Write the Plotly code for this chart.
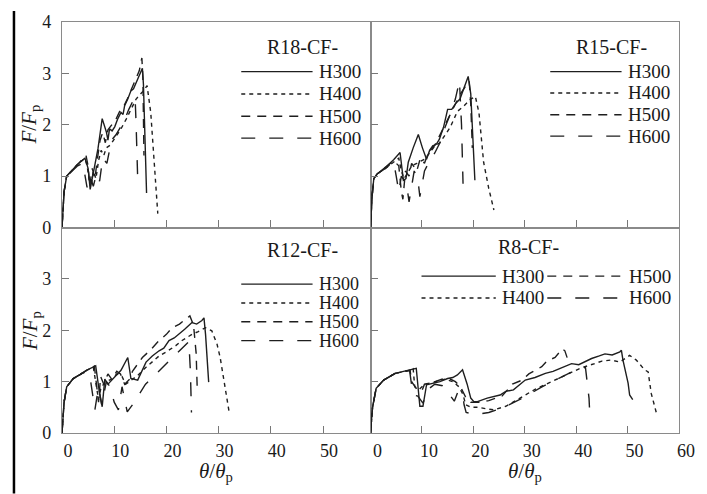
import plotly.graph_objects as go

# ---------------- data ----------------
SERIES = ["H300", "H400", "H500", "H600"]
PANELS = ["R18-CF-", "R15-CF-", "R12-CF-", "R8-CF-"]
X_TICKS = [0, 10, 20, 30, 40, 50, 60]
Y_TICKS = [0, 1, 2, 3, 4]

# R18 (top-left)
R18_H300_X = [0, 0.4, 0.9, 2, 3, 4.4, 5.0, 5.4, 5.8, 6.3, 6.9, 7.7, 8.5, 8.8, 9.1, 9.6, 10.1, 10.7, 11.3, 11.7, 12.0, 12.6, 13.2, 13.7, 14.2, 14.8, 15.4, 15.6, 16.2]
R18_H300_Y = [0, 0.7, 1.0, 1.12, 1.23, 1.35, 1.15, 0.74, 0.95, 1.15, 1.54, 2.12, 1.86, 1.7, 1.92, 1.88, 1.96, 2.12, 2.24, 2.2, 2.37, 2.5, 2.66, 2.7, 2.82, 2.95, 3.1, 2.79, 0.67]
R18_H400_X = [0, 0.4, 0.9, 2, 3, 4.4, 4.8, 5.2, 5.6, 6.0, 6.5, 7.0, 7.5, 8.0, 8.5, 9.2, 10.4, 11.2, 12.3, 13.2, 14.2, 15.5, 16.3, 17.0, 17.5, 18.0, 18.35]
R18_H400_Y = [0, 0.7, 1.0, 1.12, 1.23, 1.35, 1.2, 0.95, 0.85, 1.1, 0.95, 1.3, 1.5, 1.4, 1.55, 1.6, 1.79, 1.9, 2.11, 2.3, 2.5, 2.65, 2.76, 2.24, 1.47, 0.83, 0.27]
R18_H500_X = [0, 0.4, 0.9, 2, 3, 4.0, 4.6, 5.0, 5.3, 5.8, 6.3, 6.8, 7.3, 7.8, 8.3, 8.8, 9.5, 10.3, 11.0, 11.8, 12.5, 13.3, 14.0, 14.8, 15.3, 15.5, 15.7]
R18_H500_Y = [0, 0.7, 1.0, 1.12, 1.23, 1.32, 1.4, 1.2, 0.8, 1.15, 0.95, 1.35, 1.7, 1.85, 1.65, 1.9, 2.0, 2.1, 2.25, 2.35, 2.5, 2.7, 2.85, 3.05, 3.3, 2.9, 1.4]
R18_H600_X = [0, 0.4, 0.9, 2, 3, 4.0, 4.4, 4.8, 5.4, 6.0, 6.6, 7.2, 7.8, 8.6, 9.5, 10.3, 11.2, 12.0, 12.8, 13.5, 14.0, 14.2, 14.5]
R18_H600_Y = [0, 0.7, 1.0, 1.1, 1.2, 1.25, 1.05, 0.78, 1.0, 0.8, 1.05, 0.9, 1.35, 1.25, 1.7, 1.8, 1.95, 2.1, 2.3, 2.45, 2.55, 2.0, 0.95]

# R15 (top-right)
R15_H300_X = [0, 0.3, 0.64, 1.28, 2.9, 4.5, 5.75, 6.1, 6.4, 6.9, 7.35, 8.3, 9.3, 10.1, 10.9, 11.5, 12.1, 12.8, 13.4, 14.2, 15.0, 15.8, 16.6, 17.4, 18.2, 19.0, 19.5, 20.3]
R15_H300_Y = [0, 0.6, 0.95, 1.04, 1.17, 1.32, 1.46, 1.2, 0.92, 0.95, 1.27, 1.55, 1.81, 1.55, 1.33, 1.5, 1.59, 1.62, 1.72, 1.95, 2.3, 2.3, 2.42, 2.5, 2.71, 2.94, 2.6, 0.92]
R15_H400_X = [0, 0.3, 0.64, 1.28, 2.9, 4.5, 5.5, 6.0, 6.5, 7.2, 8.0, 9.0, 10.5, 11.5, 12.5, 13.5, 14.4, 15.5, 16.9, 18.0, 19.5, 20.4, 21.1, 22.0, 23.0, 24.0]
R15_H400_Y = [0, 0.6, 0.95, 1.04, 1.15, 1.28, 1.35, 1.1, 0.95, 1.05, 1.2, 1.25, 1.33, 1.45, 1.59, 1.65, 1.78, 1.95, 2.26, 2.35, 2.5, 2.55, 2.23, 1.27, 0.76, 0.34]
R15_H500_X = [0, 0.3, 0.64, 1.28, 2.9, 4.5, 5.5, 6.0, 6.3, 6.8, 7.5, 8.0, 9.0, 9.7, 10.5, 11.2, 12.5, 13.5, 14.5, 15.5, 16.5, 17.5, 18.5, 19.2, 19.5, 19.8]
R15_H500_Y = [0, 0.6, 0.95, 1.04, 1.17, 1.3, 1.2, 0.7, 0.55, 1.1, 1.0, 1.25, 1.1, 1.35, 1.25, 1.45, 1.6, 1.8, 2.0, 2.2, 2.4, 2.6, 2.75, 2.85, 2.4, 1.55]
R15_H600_X = [0, 0.3, 0.64, 1.28, 2.9, 4.5, 5.0, 5.5, 6.0, 7.0, 7.5, 8.5, 9.2, 9.6, 10.5, 11.5, 12.5, 13.5, 14.5, 15.5, 16.5, 17.3, 17.7, 18.0]
R15_H600_Y = [0, 0.6, 0.95, 1.04, 1.15, 1.28, 1.0, 0.7, 1.0, 0.85, 0.5, 1.1, 0.95, 0.6, 1.1, 1.3, 1.45, 1.65, 1.95, 2.2, 2.5, 2.85, 2.0, 0.85]

# R12 (bottom-left)
R12_H300_X = [0, 0.4, 0.9, 2.15, 3.5, 4.7, 6.45, 6.8, 7.2, 7.7, 8.2, 8.8, 9.5, 10.3, 11.3, 12.6, 13.2, 14.5, 15.3, 16.1, 17.3, 18.6, 19.5, 20.5, 21.5, 22.4, 23.5, 24.9, 25.8, 26.8, 27.2, 27.5, 28.1]
R12_H300_Y = [0, 0.6, 0.9, 1.06, 1.14, 1.22, 1.31, 1.0, 0.77, 0.51, 1.05, 0.95, 1.02, 1.1, 1.22, 1.47, 1.06, 1.03, 1.2, 1.38, 1.5, 1.6, 1.65, 1.8, 1.85, 1.92, 2.02, 2.15, 2.12, 2.19, 2.24, 1.92, 0.99]
R12_H400_X = [0, 0.4, 0.9, 2.15, 3.5, 4.7, 6.0, 6.5, 7.0, 7.5, 8.5, 9.5, 10.5, 11.5, 12.2, 12.9, 14.5, 16.1, 17.3, 18.6, 20, 21.8, 23, 24.9, 26, 27.5, 28.7, 29.7, 30.3, 31.3, 32.0]
R12_H400_Y = [0, 0.6, 0.9, 1.06, 1.14, 1.22, 1.28, 1.0, 0.65, 0.9, 1.0, 1.05, 1.15, 1.1, 0.95, 1.0, 1.12, 1.28, 1.38, 1.5, 1.58, 1.7, 1.8, 1.92, 1.97, 2.05, 1.99, 1.73, 1.47, 0.9, 0.42]
R12_H500_X = [0, 0.4, 0.9, 2.15, 3.5, 4.7, 6.2, 6.6, 7.0, 7.4, 8.0, 8.8, 9.5, 10.5, 11.2, 12.0, 13.0, 13.5, 15.4, 17, 18.6, 20, 21.1, 22.5, 23.5, 24.5, 25.2, 25.7, 25.9]
R12_H500_Y = [0, 0.6, 0.9, 1.06, 1.14, 1.22, 1.3, 0.95, 0.6, 1.1, 0.95, 1.15, 1.05, 1.2, 1.15, 0.95, 1.05, 1.2, 1.47, 1.62, 1.8, 1.92, 2.05, 2.12, 2.2, 2.28, 2.1, 1.55, 0.88]
R12_H600_X = [0, 0.4, 0.9, 2.15, 3.5, 4.7, 5.5, 5.9, 6.3, 7.0, 7.6, 8.5, 9.2, 10.0, 10.8, 11.5, 12.5, 13.5, 14.8, 16, 17.5, 19, 20.5, 22, 23.5, 24.3, 24.6, 24.8]
R12_H600_Y = [0, 0.6, 0.9, 1.06, 1.14, 1.2, 1.0, 0.7, 0.45, 0.9, 0.55, 1.0, 0.9, 0.6, 0.45, 0.9, 0.41, 0.55, 0.77, 0.95, 1.1, 1.25, 1.4, 1.55, 1.7, 1.78, 1.2, 0.4]

# R8 (bottom-right)
R8_H300_X = [0, 0.4, 1.1, 2.56, 4.8, 6.5, 7.7, 8.9, 9.6, 10.2, 10.9, 12.5, 13.5, 15, 16, 16.9, 17.9, 18.8, 19.5, 20.1, 20.8, 22.7, 25.2, 26.3, 27.8, 30.1, 32, 34, 35.5, 36.9, 38, 39.1, 40.5, 41.7, 43, 44.5, 45.6, 47, 48.5, 48.8, 49.1, 50.1, 50.4, 51]
R8_H300_Y = [0, 0.5, 0.87, 1.03, 1.16, 1.2, 1.24, 1.26, 0.52, 0.52, 0.94, 0.97, 1.0, 1.06, 1.08, 1.13, 1.23, 0.95, 0.68, 0.61, 0.61, 0.68, 0.74, 0.81, 0.84, 1.03, 1.08, 1.16, 1.2, 1.26, 1.3, 1.35, 1.33, 1.39, 1.45, 1.5, 1.54, 1.52, 1.58, 1.61, 1.42, 0.97, 0.74, 0.65]
R8_H400_X = [0, 0.4, 1.1, 2.56, 4.8, 6.5, 7.7, 8.3, 8.6, 9.5, 10.5, 12, 14.5, 16, 17.2, 18, 18.5, 19.5, 21, 22.5, 24, 26.3, 28, 30.1, 32, 34.6, 37, 39.1, 41, 43.6, 45, 46.8, 48.5, 50.4, 51.7, 53.3, 54, 54.6, 55.6]
R8_H400_Y = [0, 0.5, 0.87, 1.03, 1.16, 1.2, 1.22, 1.25, 0.9, 0.85, 0.95, 0.98, 1.05, 1.0, 0.9, 0.75, 0.55, 0.5, 0.5, 0.47, 0.45, 0.52, 0.62, 0.74, 0.85, 0.97, 1.08, 1.19, 1.27, 1.35, 1.4, 1.42, 1.38, 1.51, 1.42, 1.23, 1.19, 0.77, 0.39]
R8_H500_X = [0, 0.4, 1.1, 2.56, 4.8, 6.5, 7.7, 8.0, 9.0, 10.0, 10.5, 12, 14, 15.5, 16.5, 17.5, 18.5, 19.5, 21, 23, 25.6, 27.6, 29.5, 30.8, 33.3, 34.3, 35.9, 37.3, 37.8, 38.3]
R8_H500_Y = [0, 0.5, 0.87, 1.03, 1.16, 1.2, 1.22, 1.0, 0.85, 0.82, 0.95, 0.98, 1.05, 1.05, 1.0, 0.9, 0.7, 0.6, 0.6, 0.63, 0.72, 0.95, 1.03, 1.15, 1.29, 1.4, 1.47, 1.64, 1.6, 1.45]
R8_H600_X = [0, 0.4, 1.1, 2.56, 4.8, 6.5, 7.6, 7.9, 8.3, 9.2, 10.2, 11.2, 12.5, 14.0, 14.7, 16.3, 17.0, 17.9, 18.2, 18.6, 20.5, 23, 26, 30, 33, 36, 39, 41.8, 42.2, 42.5, 42.7]
R8_H600_Y = [0, 0.5, 0.87, 1.03, 1.16, 1.2, 1.22, 1.0, 0.74, 0.72, 0.58, 0.85, 0.95, 0.92, 0.84, 0.62, 0.8, 0.77, 0.55, 0.4, 0.36, 0.4, 0.5, 0.7, 0.88, 1.03, 1.18, 1.28, 0.97, 0.68, 0.26]

PANEL_DATA = [
    [(R18_H300_X, R18_H300_Y), (R18_H400_X, R18_H400_Y), (R18_H500_X, R18_H500_Y), (R18_H600_X, R18_H600_Y)],
    [(R15_H300_X, R15_H300_Y), (R15_H400_X, R15_H400_Y), (R15_H500_X, R15_H500_Y), (R15_H600_X, R15_H600_Y)],
    [(R12_H300_X, R12_H300_Y), (R12_H400_X, R12_H400_Y), (R12_H500_X, R12_H500_Y), (R12_H600_X, R12_H600_Y)],
    [(R8_H300_X, R8_H300_Y), (R8_H400_X, R8_H400_Y), (R8_H500_X, R8_H500_Y), (R8_H600_X, R8_H600_Y)],
]

# ---------------- styles ----------------
W, H = 707, 494
ML, MR, MT, MB = 62, 22, 19, 61
PW, PH = W - ML - MR, H - MT - MB
LINE_COLOR = "#1e1e1e"
DASHES = ["solid", "4px,4px", "9px,7px", "14px,14px"]
FONT = "Liberation Serif, Times New Roman, Times, serif"
TXT = "#1a1a1a"
FRAME = "#8a8a8a"


def px(x):
    return (x - ML) / PW


def py(y):
    return (H - MB - y) / PH


fig = go.Figure()
axes = [("x", "y"), ("x2", "y2"), ("x3", "y3"), ("x4", "y4")]
for p, (xa, ya) in enumerate(axes):
    for s, (xs, ys) in enumerate(PANEL_DATA[p]):
        fig.add_trace(go.Scatter(x=xs, y=ys, mode="lines", xaxis=xa, yaxis=ya,
                                 line=dict(color=LINE_COLOR, width=1.4, dash=DASHES[s]),
                                 showlegend=False, hoverinfo="skip"))

common_x = dict(ticks="inside", ticklen=7, tickcolor="#777", tickwidth=1,
                showline=True, mirror=True, linecolor=FRAME, linewidth=1.2,
                showgrid=False, zeroline=False, tickvals=X_TICKS,
                tickfont=dict(family=FONT, size=18, color=TXT))
common_y = dict(ticks="inside", ticklen=7, tickcolor="#777", tickwidth=1,
                showline=True, mirror=True, linecolor=FRAME, linewidth=1.2,
                showgrid=False, zeroline=False, range=[0, 4],
                tickfont=dict(family=FONT, size=18, color=TXT))

fig.update_layout(
    width=W, height=H, margin=dict(l=ML, r=MR, t=MT, b=MB),
    paper_bgcolor="white", plot_bgcolor="white",
    font=dict(family=FONT, color=TXT),
    xaxis=dict(common_x, domain=[0, 0.5], range=[0, 59.1], anchor="y", showticklabels=False),
    xaxis2=dict(common_x, domain=[0.5, 1], range=[0, 60], anchor="y2", showticklabels=False),
    xaxis3=dict(common_x, domain=[0, 0.5], range=[0, 59.1], anchor="y3",
                tickvals=X_TICKS[:-1], ticklabelshift=6, ticklabelstandoff=1),
    xaxis4=dict(common_x, domain=[0.5, 1], range=[0, 60], anchor="y4",
                ticklabelshift=7, ticklabelstandoff=1),
    yaxis=dict(common_y, domain=[0.5, 1], anchor="x", tickvals=Y_TICKS, ticklabelstandoff=6),
    yaxis2=dict(common_y, domain=[0.5, 1], anchor="x2", tickvals=Y_TICKS, showticklabels=False),
    yaxis3=dict(common_y, domain=[0, 0.5], anchor="x3", tickvals=Y_TICKS[:-1], ticklabelstandoff=6),
    yaxis4=dict(common_y, domain=[0, 0.5], anchor="x4", tickvals=Y_TICKS[:-1], showticklabels=False),
)

shapes = []
annots = []


def legend_row(x0, x1, y, dash, label, size=19):
    shapes.append(dict(type="line", xref="paper", yref="paper", x0=px(x0), x1=px(x1),
                       y0=py(y), y1=py(y), line=dict(color=LINE_COLOR, width=1.4, dash=dash)))
    annots.append(dict(xref="paper", yref="paper", x=px(x1 + 4), y=py(y), text=label,
                       showarrow=False, xanchor="left", yanchor="middle",
                       font=dict(family=FONT, size=size, color=TXT)))


def title(xc, y, text):
    annots.append(dict(xref="paper", yref="paper", x=px(xc), y=py(y), text=text,
                       showarrow=False, xanchor="center", yanchor="middle",
                       font=dict(family=FONT, size=20, color=TXT)))


# top-left legend
title(305, 44, PANELS[0])
for i, yy in enumerate([69, 91.5, 114, 136]):
    legend_row(243, 315, yy, DASHES[i], SERIES[i])
# top-right legend
title(617, 44, PANELS[1])
for i, yy in enumerate([69, 90.5, 112.5, 134]):
    legend_row(555, 627, yy, DASHES[i], SERIES[i])
# bottom-left legend
title(305, 249, PANELS[2])
for i, yy in enumerate([283, 302, 321, 340]):
    legend_row(243, 315, yy, DASHES[i], SERIES[i], size=18)
# bottom-right legend (two columns)
title(533, 246, PANELS[3])
legend_row(425, 500, 275, DASHES[0], SERIES[0])
legend_row(425, 500, 297, DASHES[1], SERIES[1])
legend_row(552, 628, 275, DASHES[2], SERIES[2])
legend_row(552, 628, 297, DASHES[3], SERIES[3])

# axis titles
for yc in (122, 330):
    annots.append(dict(xref="paper", yref="paper", x=px(30), y=py(yc),
                       text="<i>F</i>/<i>F</i><sub>p</sub>", textangle=-90, showarrow=False,
                       xanchor="center", yanchor="middle",
                       font=dict(family=FONT, size=21, color=TXT)))
for xc in (218, 529):
    annots.append(dict(xref="paper", yref="paper", x=px(xc), y=py(472),
                       text="<i>θ</i>/<i>θ</i><sub>p</sub>", showarrow=False,
                       xanchor="center", yanchor="middle",
                       font=dict(family=FONT, size=21, color=TXT)))

# page edge line on the left
shapes.append(dict(type="line", xref="paper", yref="paper", x0=px(13.5), x1=px(13.5),
                   y0=py(8), y1=py(494), line=dict(color="black", width=2.5)))

fig.update_layout(shapes=shapes, annotations=annots)
fig.write_html("out.html")
